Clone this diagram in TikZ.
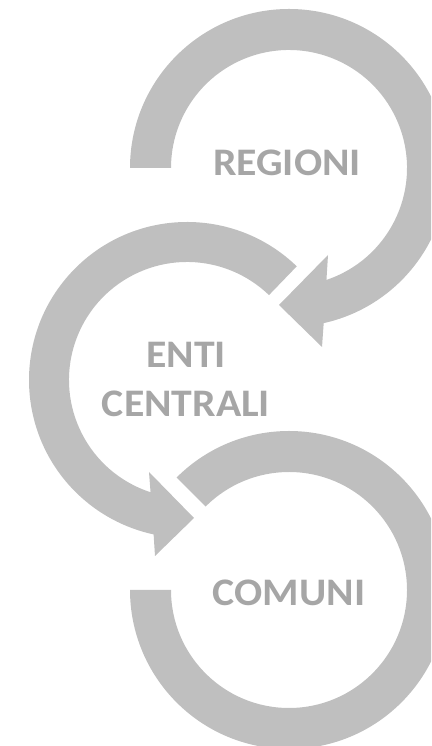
\documentclass[tikz,border=0pt]{standalone}
\usepackage{fontspec}
\setmainfont{Carlito}
\newfontfamily\labelfont{Carlito}[FakeStretch=1.07]
\definecolor{arrowgray}{RGB}{191,191,191}
\definecolor{labelgray}{RGB}{166,166,166}
\tikzset{
  ring/.style={fill=arrowgray, draw=none},
  label/.style={inner sep=0pt, text=labelgray, font=\labelfont\bfseries\fontsize{39}{49}\selectfont, anchor=base}
}
\begin{document}
\begin{tikzpicture}[x=1pt,y=1pt]
\useasboundingbox (0,0) rectangle (431,746);
\clip (0,0) rectangle (431,746);
% top arrow (REGIONI)
\begin{scope}[shift={(289,578)}]
\fill[ring] (180:159) arc[start angle=180, end angle=-77.4, radius=159pt]
  -- (33,-179) -- (-10,-137) -- (39,-87)
  -- (-71.5:118) arc[start angle=-71.5, end angle=180, radius=118pt] -- cycle;
\end{scope}
% middle arrow (ENTI CENTRALI)
\begin{scope}[shift={(187,366)}]
\fill[ring] (46:158) arc[start angle=46, end angle=257.8, radius=158pt]
  -- (-32,-176) -- (7,-138) -- (-38,-92)
  -- (252:118) arc[start angle=252, end angle=46, radius=118pt] -- cycle;
\end{scope}
% bottom arc (COMUNI)
\begin{scope}[shift={(289,156)}]
\fill[ring] (135:159) arc[start angle=135, end angle=-180, radius=159pt]
  -- (180:118) arc[start angle=-180, end angle=135, radius=118pt] -- cycle;
\end{scope}
\node[label] (regioni) at (287,570) {REGIONI};
\node[label] (enti) at (186,378) {ENTI};
\node[label] (centrali) at (186,329) {CENTRALI};
\node[label] (comuni) at (289,140) {COMUNI};
\end{tikzpicture}
\end{document}
